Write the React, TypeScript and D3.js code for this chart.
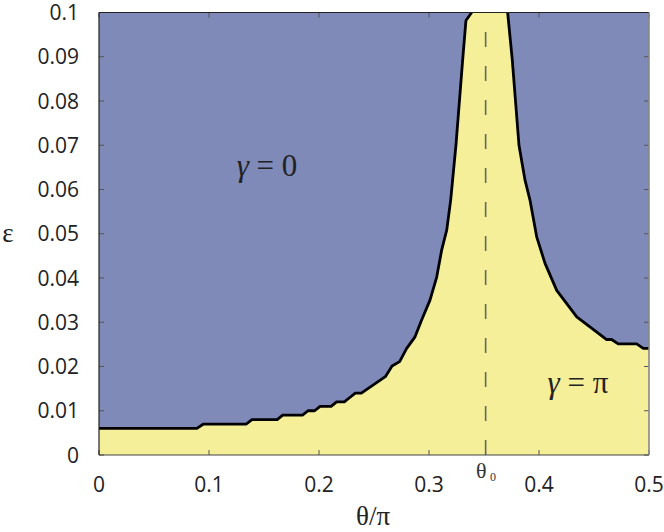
import React from "react";
import * as d3 from "d3";

const W = 664;
const H = 532;
const M = { left: 99, right: 15, top: 12.5, bottom: 77 };

// Phase boundary: theta/pi vs epsilon (left branch, up to top, right branch)
const thetaVals = [
  0, 0.089, 0.095, 0.134, 0.139, 0.162, 0.167, 0.185, 0.19, 0.196, 0.201, 0.211, 0.216, 0.223,
  0.228, 0.233, 0.2385, 0.2603, 0.2664, 0.2733, 0.2797, 0.2873, 0.2933, 0.3009, 0.307, 0.3115,
  0.3161, 0.3197, 0.3245, 0.3306, 0.3336, 0.3388,
  0.3715, 0.3757, 0.3818, 0.3873, 0.3918, 0.3979, 0.4055, 0.4161, 0.4343, 0.4615, 0.466, 0.472,
  0.4888, 0.4948, 0.5,
];
const epsVals = [
  0.006, 0.006, 0.007, 0.007, 0.008, 0.008, 0.009, 0.009, 0.01, 0.01, 0.011, 0.011, 0.012, 0.012,
  0.013, 0.014, 0.014, 0.0177, 0.0201, 0.0211, 0.0241, 0.0267, 0.0305, 0.035, 0.0402, 0.0463,
  0.0508, 0.0576, 0.07, 0.0893, 0.0982, 0.1,
  0.1, 0.0893, 0.07, 0.0621, 0.0576, 0.0493, 0.0433, 0.0372, 0.0312, 0.0261, 0.0261, 0.0251,
  0.0251, 0.0241, 0.0241,
];
const leftBranchCount = 32; // points belonging to the left branch

const xTicks = [0, 0.1, 0.2, 0.3, 0.4, 0.5];
const xTickLabels = ["0", "0.1", "0.2", "0.3", "0.4", "0.5"];
const yTicks = [0, 0.01, 0.02, 0.03, 0.04, 0.05, 0.06, 0.07, 0.08, 0.09, 0.1];
const yTickLabels = ["0", "0.01", "0.02", "0.03", "0.04", "0.05", "0.06", "0.07", "0.08", "0.09", "0.1"];
const theta0 = 0.3515;

const BLUE = "#7f8ab8";
const YELLOW = "#f4ef98";

export default function App() {
  const x = d3.scaleLinear().domain([0, 0.5]).range([M.left, W - M.right]);
  const y = d3.scaleLinear().domain([0, 0.1]).range([H - M.bottom, M.top]);
  const pts: [number, number][] = thetaVals.map((t, i) => [t, epsVals[i]]);
  const leftPts = pts.slice(0, leftBranchCount);
  const rightPts = pts.slice(leftBranchCount);

  const area = d3
    .area<[number, number]>()
    .x((d) => x(d[0]))
    .y0(y(0))
    .y1((d) => y(d[1]));
  const line = d3
    .line<[number, number]>()
    .x((d) => x(d[0]))
    .y((d) => y(d[1]));

  const x0 = x(0), x1 = x(0.5), yb = y(0), yt = y(0.1);
  const tickFont = "'Open Sans', 'DejaVu Sans', sans-serif";
  const serif = "'Liberation Serif', 'DejaVu Serif', serif";

  return (
    <svg width={W} height={H} style={{ position: "absolute", left: 0, top: 0 }}>
      <defs>
        <clipPath id="plotclip">
          <rect x={x0} y={yt} width={x1 - x0} height={yb - yt} />
        </clipPath>
      </defs>
      <rect x={0} y={0} width={W} height={H} fill="#ffffff" />
      <rect x={x0} y={yt} width={x1 - x0} height={yb - yt} fill={BLUE} />
      <path d={area(pts) || ""} fill={YELLOW} />
      <line x1={x(theta0)} x2={x(theta0)} y1={yb} y2={yt} stroke="#666" strokeWidth={1.6} strokeDasharray="15 19" />
      <g clipPath="url(#plotclip)">
        <path d={line(leftPts) || ""} fill="none" stroke="#000" strokeWidth={2.8} strokeLinejoin="round" />
        <path d={line(rightPts) || ""} fill="none" stroke="#000" strokeWidth={2.8} strokeLinejoin="round" />
      </g>

      {/* ticks */}
      {yTicks.map((t) => (
        <g key={"y" + t}>
          <line x1={x0} x2={x0 + 5} y1={y(t)} y2={y(t)} stroke="#555" strokeWidth={1} />
          <line x1={x1 - 5} x2={x1} y1={y(t)} y2={y(t)} stroke="#555" strokeWidth={1} />
        </g>
      ))}
      {xTicks.map((t) => (
        <g key={"x" + t}>
          <line x1={x(t)} x2={x(t)} y1={yb} y2={yb - 5} stroke="#555" strokeWidth={1} />
          <line x1={x(t)} x2={x(t)} y1={yt} y2={yt + 5} stroke="#555" strokeWidth={1} />
        </g>
      ))}

      {/* frame */}
      <line x1={x0} x2={x1} y1={yt} y2={yt} stroke="#222" strokeWidth={1.2} />
      <line x1={x0} x2={x0} y1={yt} y2={yb} stroke="#222" strokeWidth={1.2} />
      <line x1={x0} x2={x1} y1={yb} y2={yb} stroke="#444" strokeWidth={1.2} />
      <line x1={x1} x2={x1} y1={yt} y2={yb} stroke="#888" strokeWidth={1.6} />

      {/* tick labels */}
      {yTicks.map((t, i) => (
        <text key={"yl" + t} x={79} y={y(t)} dy="0.36em" textAnchor="end" fontFamily={tickFont} fontSize={21} fill="#222">
          {yTickLabels[i]}
        </text>
      ))}
      {xTicks.map((t, i) => (
        <text key={"xl" + t} x={x(t)} y={492} textAnchor="middle" fontFamily={tickFont} fontSize={21} fill="#222">
          {xTickLabels[i]}
        </text>
      ))}

      {/* axis labels */}
      <text x={373} y={525} textAnchor="middle" fontFamily={serif} fontSize={27} fill="#222">θ/π</text>
      <text x={8} y={242} textAnchor="middle" fontFamily={serif} fontSize={27} fill="#222">ε</text>
      <text x={482} y={478} textAnchor="start" fontFamily={serif} fontSize={22} fill="#333" dx={-6}>
        θ
      </text>
      <text x={490} y={481} textAnchor="start" fontFamily={serif} fontSize={12} fill="#333">
        0
      </text>

      {/* region labels */}
      <text x={267} y={176} textAnchor="middle" fontFamily={serif} fontSize={31} fill="#222">
        <tspan fontStyle="italic">γ</tspan> = 0
      </text>
      <text x={578} y={393} textAnchor="middle" fontFamily={serif} fontSize={31} fill="#222">
        <tspan fontStyle="italic">γ</tspan> = π
      </text>
    </svg>
  );
}
